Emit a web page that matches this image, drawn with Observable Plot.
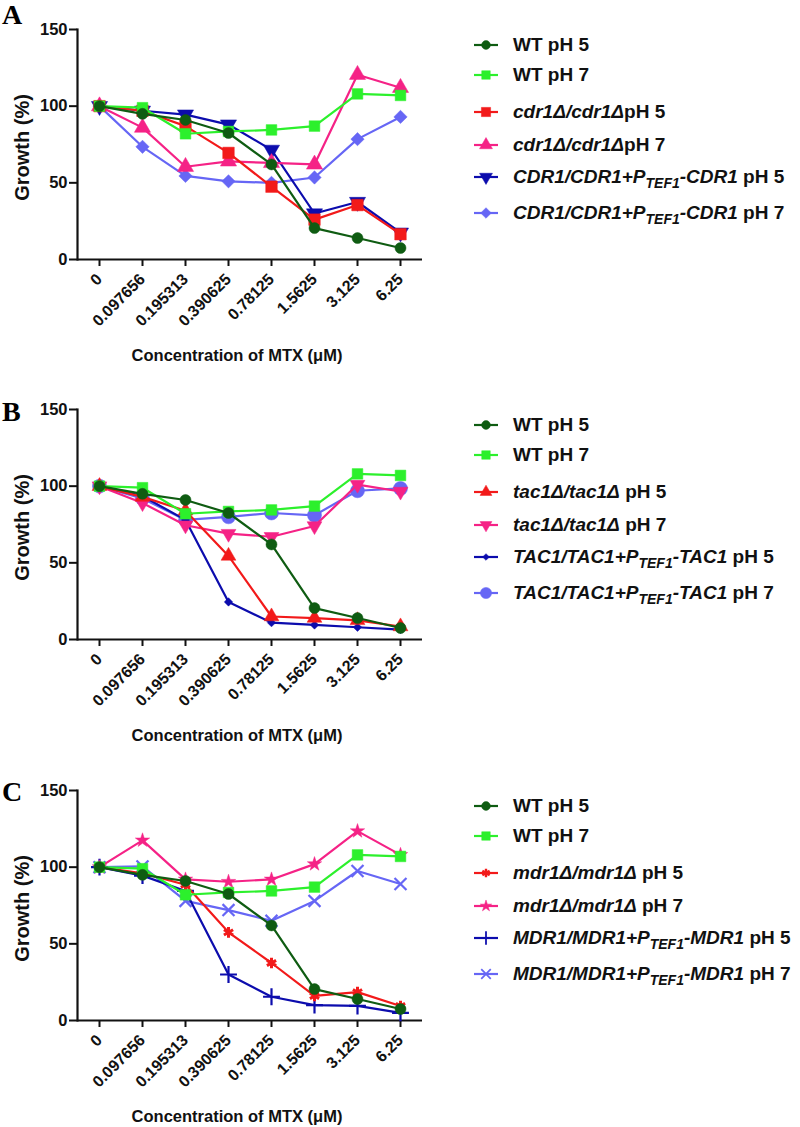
<!DOCTYPE html>
<html>
<head>
<meta charset="utf-8">
<script src="https://cdn.jsdelivr.net/npm/d3@7"></script>
<script src="https://cdn.jsdelivr.net/npm/@observablehq/plot@0.6"></script>
<style>
  html, body { margin: 0; padding: 0; background: #fff; }
  #page { position: relative; width: 800px; height: 1127px; overflow: hidden; font-family: "Liberation Sans", Arial, sans-serif; }
  .panel-svg { position: absolute; left: 0; }
  .letter { position: absolute; left: 2px; font-family: "Liberation Serif", "Times New Roman", serif; font-weight: bold; font-size: 28px; line-height: 1; }
  .leg-row { position: absolute; left: 473px; height: 24px; display: flex; align-items: center; white-space: nowrap; font-weight: bold; font-size: 19px; color: #111; }
  .leg-row svg { margin-right: 14px; }
  .leg-row sub { font-size: 14px; vertical-align: -5px; line-height: 0; }
</style>
</head>
<body>
<div id="page"></div>
<script>
// ---- data ----
const concentrations = ["0", "0.097656", "0.195313", "0.390625", "0.78125", "1.5625", "3.125", "6.25"];
const yTicks = [0, 50, 100, 150];
const yTitle = "Growth (%)";
const xTitle = "Concentration of MTX (\u03bcM)";
const panelLetters = ["A", "B", "C"];

const wtPH5 = [100, 95, 91, 82.5, 62, 20.5, 14, 7.5];
const wtPH7 = [100, 99, 82, 83.5, 84.5, 87, 108, 107];

const cdr1PH5 = [100, 97, 87, 69.5, 47.5, 26, 35.5, 16.5];
const cdr1PH7 = [100, 86, 60.5, 64, 63, 62, 120.5, 112];
const CDR1PH5 = [100, 97, 94.5, 88, 71.5, 30, 37.5, 17.5];
const CDR1PH7 = [100, 73.5, 54.5, 51, 50, 53.5, 78.5, 93];

const tac1PH5 = [100, 93, 84, 54.5, 15, 14, 12.5, 8.5];
const tac1PH7 = [100, 89, 74.5, 69, 67, 74, 101, 96.5];
const TAC1PH5 = [100, 93.5, 78, 24.5, 11, 9.5, 8, 6.5];
const TAC1PH7 = [100, 92, 78, 80, 82.5, 81, 97, 98.5];

const mdr1PH5 = [100, 96, 88.5, 57.5, 37.5, 16, 18.5, 9.5];
const mdr1PH7 = [100, 117.5, 92, 90.5, 92, 102, 123.5, 108];
const MDR1PH5 = [100, 94.5, 84.5, 30, 15.5, 10, 9.5, 5];
const MDR1PH7 = [100, 100.5, 78, 72, 65, 78, 97.5, 89];

const labelsA = ["WT pH 5", "WT pH 7",
  "<i>cdr1\u0394/cdr1\u0394</i>pH 5", "<i>cdr1\u0394/cdr1\u0394</i>pH 7",
  "<i>CDR1/CDR1+P<sub>TEF1</sub>-CDR1</i> pH 5", "<i>CDR1/CDR1+P<sub>TEF1</sub>-CDR1</i> pH 7"];
const labelsB = ["WT pH 5", "WT pH 7",
  "<i>tac1\u0394/tac1\u0394</i> pH 5", "<i>tac1\u0394/tac1\u0394</i> pH 7",
  "<i>TAC1/TAC1+P<sub>TEF1</sub>-TAC1</i> pH 5", "<i>TAC1/TAC1+P<sub>TEF1</sub>-TAC1</i> pH 7"];
const labelsC = ["WT pH 5", "WT pH 7",
  "<i>mdr1\u0394/mdr1\u0394</i> pH 5", "<i>mdr1\u0394/mdr1\u0394</i> pH 7",
  "<i>MDR1/MDR1+P<sub>TEF1</sub>-MDR1</i> pH 5", "<i>MDR1/MDR1+P<sub>TEF1</sub>-MDR1</i> pH 7"];

const colors = ["#0f5c12", "#2cf02c", "#f21a1a", "#f52286", "#0c0cad", "#6666f5"];

// ---- styles per series (marker) ----
const markersA = [
  {symbol: "circle", r: 5.5}, {symbol: "square", r: 6},
  {symbol: "square", r: 6.5}, {symbol: "triangle", r: 6},
  {symbol: "triangle", r: 6, rotate: 180}, {symbol: "diamond2", r: 6}
];
const markersB = [
  {symbol: "circle", r: 5.5}, {symbol: "square", r: 6},
  {symbol: "triangle", r: 5.5}, {symbol: "triangle", r: 5.5, rotate: 180},
  {symbol: "diamond2", r: 3.8}, {symbol: "circle", r: 7}
];
const markersC = [
  {symbol: "circle", r: 5.5}, {symbol: "square", r: 6},
  {symbol: "asterisk", r: 5, stroke: true, sw: 3}, {symbol: "star", r: 4.5},
  {symbol: "plus", r: 5.5, stroke: true, sw: 2.2}, {symbol: "times", r: 5.5, stroke: true, sw: 2.2}
];

const panels = [
  {series: [wtPH5, wtPH7, cdr1PH5, cdr1PH7, CDR1PH5, CDR1PH7], labels: labelsA, markers: markersA, top: 0, letterTop: 1},
  {series: [wtPH5, wtPH7, tac1PH5, tac1PH7, TAC1PH5, TAC1PH7], labels: labelsB, markers: markersB, top: 380, letterTop: 398},
  {series: [wtPH5, wtPH7, mdr1PH5, mdr1PH7, MDR1PH5, MDR1PH7], labels: labelsC, markers: markersC, top: 761, letterTop: 778}
];
const legendRows = [45, 75, 112, 145, 177, 213];

const symbolMap = {
  circle: d3.symbolCircle, square: d3.symbolSquare, triangle: d3.symbolTriangle,
  diamond2: d3.symbolDiamond2, asterisk: d3.symbolAsterisk, star: d3.symbolStar,
  plus: d3.symbolPlus, times: d3.symbolTimes
};

const page = document.getElementById("page");

panels.forEach((p, pi) => {
  const marks = [];
  // draw in reverse so WT pH 5 is on top
  for (let s = p.series.length - 1; s >= 0; s--) {
    const data = p.series[s].map((v, i) => ({x: concentrations[i], y: v}));
    const m = p.markers[s];
    marks.push(Plot.line(data, {x: "x", y: "y", stroke: colors[s], strokeWidth: 2.2}));
    marks.push(Plot.dot(data, {
      x: "x", y: "y", symbol: m.symbol, r: m.r, rotate: m.rotate || 0,
      fill: m.stroke ? "none" : colors[s],
      stroke: colors[s], strokeWidth: m.stroke ? m.sw : 0.5
    }));
  }
  const svg = Plot.plot({
    width: 430, height: 380,
    marginLeft: 77, marginRight: 8, marginTop: 29, marginBottom: 121,
    style: {fontFamily: "'Liberation Sans', Arial, sans-serif", fontWeight: "bold", fontSize: "16px", color: "#111", background: "transparent", overflow: "visible"},
    x: {type: "point", domain: concentrations, padding: 0.5},
    y: {domain: [0, 150]},
    marks: [
      Plot.ruleY([0], {stroke: "#111", strokeWidth: 2.2}),
      Plot.axisY({ticks: yTicks, tickSize: 8, tickPadding: 2, label: null, fontSize: 16.5, fontWeight: "bold", strokeWidth: 2}),
      Plot.axisX({tickRotate: -45, tickSize: 7, tickPadding: 10, label: null, fontSize: 16, fontWeight: "bold", strokeWidth: 2}),
      Plot.frame({anchor: "left", stroke: "#111", strokeWidth: 2.2}),
      Plot.text([yTitle], {frameAnchor: "left", textAnchor: "middle", lineAnchor: "middle", rotate: -90, dx: -55, dy: 3, fontSize: 20, fontWeight: "bold", fill: "#111"}),
      Plot.text([xTitle], {frameAnchor: "bottom", textAnchor: "middle", lineAnchor: "middle", dy: 96, dx: -13, fontSize: 16.5, fontWeight: "bold", fill: "#111"}),
      ...marks
    ]
  });
  svg.classList.add("panel-svg");
  svg.style.top = p.top + "px";
  page.appendChild(svg);

  const letter = document.createElement("div");
  letter.className = "letter";
  letter.style.top = p.letterTop + "px";
  letter.textContent = panelLetters[pi];
  page.appendChild(letter);

  p.labels.forEach((lab, s) => {
    const row = document.createElement("div");
    row.className = "leg-row";
    row.style.top = (p.top + legendRows[s] - 12) + "px";
    const m = p.markers[s];
    const sw = d3.create("svg").attr("width", 26).attr("height", 24);
    sw.append("line").attr("x1", 1).attr("x2", 25).attr("y1", 12).attr("y2", 12)
      .attr("stroke", colors[s]).attr("stroke-width", 2.2);
    const size = Math.PI * Math.pow(m.r * 0.8, 2);
    sw.append("path").attr("d", d3.symbol(symbolMap[m.symbol], size)())
      .attr("transform", `translate(13,12) rotate(${m.rotate || 0})`)
      .attr("fill", m.stroke ? "none" : colors[s])
      .attr("stroke", colors[s]).attr("stroke-width", m.stroke ? m.sw * 0.8 : 0.5);
    row.appendChild(sw.node());
    const span = document.createElement("span");
    span.innerHTML = lab;
    row.appendChild(span);
    page.appendChild(row);
  });
});
</script>
</body>
</html>
